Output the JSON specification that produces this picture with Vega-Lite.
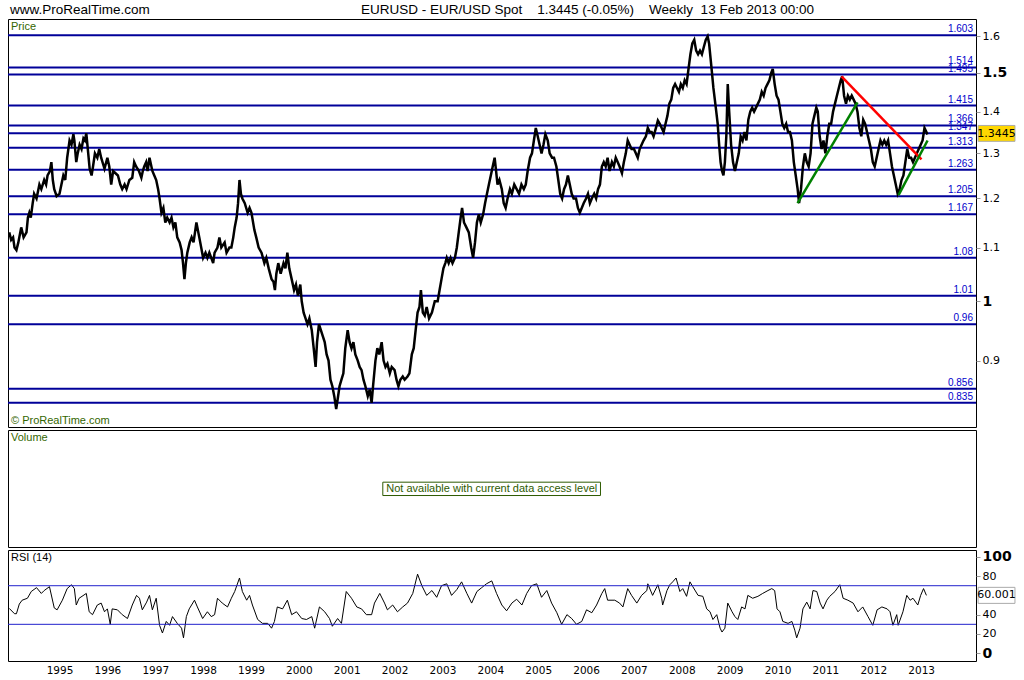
{
"$schema":"https://vega.github.io/schema/vega-lite/v6.json",
"background":"white",
"padding":{"left":3,"top":2,"right":0,"bottom":0},
"spacing":1,
"config":{"view":{"stroke":"#000000","strokeWidth":1},"font":"DejaVu Sans","axis":{"labelOverlap":false},"axisY":{"labelOverlap":false},"axisRight":{"labelOverlap":false}},
"datasets":{
"one":[{"k":1}],
"levels":[{"v":1.603,"s":"1.603"},{"v":1.514,"s":"1.514"},{"v":1.495,"s":"1.495"},{"v":1.415,"s":"1.415"},{"v":1.366,"s":"1.366"},{"v":1.347,"s":"1.347"},{"v":1.313,"s":"1.313"},{"v":1.263,"s":"1.263"},{"v":1.205,"s":"1.205"},{"v":1.167,"s":"1.167"},{"v":1.08,"s":"1.08"},{"v":1.01,"s":"1.01"},{"v":0.96,"s":"0.96"},{"v":0.856,"s":"0.856"},{"v":0.835,"s":"0.835"}],
"trend":[{"id":"r","t":2011.336,"p":1.49},{"id":"r","t":2013.007,"p":1.286},{"id":"g1","t":2010.418,"p":1.19},{"id":"g1","t":2011.671,"p":1.423},{"id":"g2","t":2012.528,"p":1.207},{"id":"g2","t":2013.134,"p":1.33}],
"rsiLevels":[{"v":30},{"v":70}],
"price":[
{"t":1993.95,"p":1.13},{"t":1993.99,"p":1.115},{"t":1994.03,"p":1.12},{"t":1994.06,"p":1.10},{"t":1994.10,"p":1.095},{"t":1994.14,"p":1.11},{"t":1994.20,"p":1.14},{"t":1994.25,"p":1.12},{"t":1994.31,"p":1.13},{"t":1994.34,"p":1.16},{"t":1994.37,"p":1.17},{"t":1994.40,"p":1.16},{"t":1994.44,"p":1.19},{"t":1994.47,"p":1.21},{"t":1994.52,"p":1.20},{"t":1994.58,"p":1.23},{"t":1994.62,"p":1.22},{"t":1994.68,"p":1.24},{"t":1994.72,"p":1.23},{"t":1994.75,"p":1.25},{"t":1994.80,"p":1.26},{"t":1994.83,"p":1.28},{"t":1994.86,"p":1.24},{"t":1994.89,"p":1.22},{"t":1994.94,"p":1.205},
{"t":1995.00,"p":1.21},{"t":1995.04,"p":1.23},{"t":1995.08,"p":1.25},{"t":1995.12,"p":1.24},{"t":1995.16,"p":1.29},{"t":1995.21,"p":1.33},{"t":1995.25,"p":1.32},{"t":1995.29,"p":1.345},{"t":1995.31,"p":1.33},{"t":1995.35,"p":1.28},{"t":1995.38,"p":1.30},{"t":1995.42,"p":1.32},{"t":1995.46,"p":1.31},{"t":1995.50,"p":1.335},{"t":1995.53,"p":1.33},{"t":1995.56,"p":1.347},{"t":1995.60,"p":1.30},{"t":1995.63,"p":1.265},{"t":1995.67,"p":1.25},{"t":1995.70,"p":1.27},{"t":1995.74,"p":1.30},{"t":1995.79,"p":1.29},{"t":1995.83,"p":1.31},{"t":1995.87,"p":1.29},{"t":1995.94,"p":1.265},
{"t":1996.00,"p":1.29},{"t":1996.04,"p":1.27},{"t":1996.08,"p":1.23},{"t":1996.12,"p":1.26},{"t":1996.17,"p":1.255},{"t":1996.22,"p":1.25},{"t":1996.27,"p":1.23},{"t":1996.31,"p":1.22},{"t":1996.36,"p":1.23},{"t":1996.40,"p":1.22},{"t":1996.46,"p":1.24},{"t":1996.52,"p":1.245},{"t":1996.56,"p":1.28},{"t":1996.60,"p":1.27},{"t":1996.66,"p":1.26},{"t":1996.71,"p":1.245},{"t":1996.74,"p":1.26},{"t":1996.77,"p":1.27},{"t":1996.81,"p":1.28},{"t":1996.84,"p":1.26},{"t":1996.88,"p":1.29},{"t":1996.94,"p":1.26},{"t":1996.98,"p":1.25},
{"t":1997.02,"p":1.24},{"t":1997.06,"p":1.22},{"t":1997.09,"p":1.20},{"t":1997.13,"p":1.17},{"t":1997.17,"p":1.18},{"t":1997.21,"p":1.15},{"t":1997.25,"p":1.16},{"t":1997.30,"p":1.15},{"t":1997.34,"p":1.16},{"t":1997.38,"p":1.14},{"t":1997.42,"p":1.15},{"t":1997.46,"p":1.12},{"t":1997.51,"p":1.11},{"t":1997.55,"p":1.095},{"t":1997.58,"p":1.07},{"t":1997.61,"p":1.04},{"t":1997.64,"p":1.07},{"t":1997.67,"p":1.09},{"t":1997.72,"p":1.11},{"t":1997.76,"p":1.12},{"t":1997.80,"p":1.11},{"t":1997.86,"p":1.15},{"t":1997.92,"p":1.12},{"t":1997.96,"p":1.10},
{"t":1998.00,"p":1.08},{"t":1998.05,"p":1.09},{"t":1998.09,"p":1.08},{"t":1998.13,"p":1.09},{"t":1998.17,"p":1.08},{"t":1998.21,"p":1.07},{"t":1998.24,"p":1.09},{"t":1998.30,"p":1.10},{"t":1998.34,"p":1.12},{"t":1998.38,"p":1.10},{"t":1998.45,"p":1.11},{"t":1998.49,"p":1.09},{"t":1998.55,"p":1.10},{"t":1998.59,"p":1.10},{"t":1998.63,"p":1.12},{"t":1998.66,"p":1.14},{"t":1998.70,"p":1.16},{"t":1998.73,"p":1.19},{"t":1998.76,"p":1.24},{"t":1998.79,"p":1.21},{"t":1998.82,"p":1.20},{"t":1998.87,"p":1.19},{"t":1998.93,"p":1.17},{"t":1998.97,"p":1.18},
{"t":1999.01,"p":1.17},{"t":1999.07,"p":1.135},{"t":1999.11,"p":1.12},{"t":1999.16,"p":1.10},{"t":1999.22,"p":1.09},{"t":1999.28,"p":1.07},{"t":1999.32,"p":1.08},{"t":1999.37,"p":1.06},{"t":1999.43,"p":1.04},{"t":1999.47,"p":1.035},{"t":1999.50,"p":1.02},{"t":1999.53,"p":1.05},{"t":1999.57,"p":1.07},{"t":1999.62,"p":1.05},{"t":1999.68,"p":1.07},{"t":1999.72,"p":1.06},{"t":1999.76,"p":1.09},{"t":1999.80,"p":1.06},{"t":1999.85,"p":1.04},{"t":1999.90,"p":1.02},{"t":1999.94,"p":1.03},{"t":1999.98,"p":1.01},
{"t":2000.03,"p":1.03},{"t":2000.06,"p":1.00},{"t":2000.10,"p":0.98},{"t":2000.14,"p":0.97},{"t":2000.18,"p":0.96},{"t":2000.22,"p":0.97},{"t":2000.27,"p":0.95},{"t":2000.31,"p":0.92},{"t":2000.35,"p":0.89},{"t":2000.38,"p":0.93},{"t":2000.42,"p":0.96},{"t":2000.46,"p":0.95},{"t":2000.50,"p":0.94},{"t":2000.54,"p":0.93},{"t":2000.58,"p":0.91},{"t":2000.62,"p":0.90},{"t":2000.66,"p":0.87},{"t":2000.70,"p":0.86},{"t":2000.74,"p":0.845},{"t":2000.78,"p":0.826},{"t":2000.81,"p":0.84},{"t":2000.85,"p":0.86},{"t":2000.89,"p":0.87},{"t":2000.93,"p":0.88},{"t":2000.97,"p":0.92},
{"t":2001.02,"p":0.95},{"t":2001.06,"p":0.93},{"t":2001.10,"p":0.92},{"t":2001.14,"p":0.93},{"t":2001.18,"p":0.91},{"t":2001.23,"p":0.90},{"t":2001.27,"p":0.89},{"t":2001.31,"p":0.885},{"t":2001.35,"p":0.87},{"t":2001.39,"p":0.86},{"t":2001.44,"p":0.845},{"t":2001.48,"p":0.855},{"t":2001.52,"p":0.835},{"t":2001.55,"p":0.86},{"t":2001.60,"p":0.90},{"t":2001.64,"p":0.92},{"t":2001.68,"p":0.91},{"t":2001.73,"p":0.93},{"t":2001.77,"p":0.90},{"t":2001.81,"p":0.89},{"t":2001.85,"p":0.895},{"t":2001.90,"p":0.88},{"t":2001.94,"p":0.89},
{"t":2002.00,"p":0.885},{"t":2002.04,"p":0.87},{"t":2002.08,"p":0.86},{"t":2002.12,"p":0.87},{"t":2002.17,"p":0.875},{"t":2002.21,"p":0.87},{"t":2002.27,"p":0.875},{"t":2002.31,"p":0.88},{"t":2002.36,"p":0.91},{"t":2002.40,"p":0.92},{"t":2002.44,"p":0.95},{"t":2002.48,"p":0.98},{"t":2002.52,"p":0.99},{"t":2002.55,"p":1.02},{"t":2002.59,"p":0.98},{"t":2002.63,"p":0.975},{"t":2002.67,"p":0.99},{"t":2002.72,"p":0.97},{"t":2002.78,"p":0.98},{"t":2002.84,"p":1.00},{"t":2002.90,"p":1.00},{"t":2002.94,"p":1.02},{"t":2002.98,"p":1.04},
{"t":2003.02,"p":1.06},{"t":2003.06,"p":1.07},{"t":2003.09,"p":1.08},{"t":2003.13,"p":1.07},{"t":2003.17,"p":1.08},{"t":2003.21,"p":1.07},{"t":2003.26,"p":1.08},{"t":2003.30,"p":1.10},{"t":2003.34,"p":1.13},{"t":2003.38,"p":1.16},{"t":2003.41,"p":1.18},{"t":2003.45,"p":1.15},{"t":2003.50,"p":1.14},{"t":2003.55,"p":1.13},{"t":2003.60,"p":1.10},{"t":2003.64,"p":1.08},{"t":2003.68,"p":1.11},{"t":2003.72,"p":1.15},{"t":2003.76,"p":1.167},{"t":2003.80,"p":1.15},{"t":2003.85,"p":1.167},{"t":2003.89,"p":1.19},{"t":2003.93,"p":1.21},{"t":2003.97,"p":1.23},
{"t":2004.01,"p":1.25},{"t":2004.05,"p":1.27},{"t":2004.09,"p":1.29},{"t":2004.12,"p":1.26},{"t":2004.15,"p":1.23},{"t":2004.19,"p":1.24},{"t":2004.24,"p":1.22},{"t":2004.28,"p":1.19},{"t":2004.32,"p":1.18},{"t":2004.36,"p":1.20},{"t":2004.41,"p":1.22},{"t":2004.45,"p":1.21},{"t":2004.50,"p":1.23},{"t":2004.55,"p":1.22},{"t":2004.60,"p":1.21},{"t":2004.65,"p":1.23},{"t":2004.70,"p":1.22},{"t":2004.74,"p":1.23},{"t":2004.78,"p":1.26},{"t":2004.83,"p":1.29},{"t":2004.87,"p":1.30},{"t":2004.91,"p":1.33},{"t":2004.95,"p":1.36},{"t":2004.99,"p":1.34},
{"t":2005.03,"p":1.32},{"t":2005.07,"p":1.30},{"t":2005.11,"p":1.32},{"t":2005.15,"p":1.345},{"t":2005.20,"p":1.33},{"t":2005.24,"p":1.30},{"t":2005.29,"p":1.29},{"t":2005.33,"p":1.29},{"t":2005.38,"p":1.27},{"t":2005.42,"p":1.24},{"t":2005.46,"p":1.21},{"t":2005.50,"p":1.20},{"t":2005.54,"p":1.22},{"t":2005.58,"p":1.23},{"t":2005.62,"p":1.25},{"t":2005.66,"p":1.23},{"t":2005.70,"p":1.21},{"t":2005.74,"p":1.20},{"t":2005.79,"p":1.20},{"t":2005.83,"p":1.18},{"t":2005.87,"p":1.17},{"t":2005.91,"p":1.18},{"t":2005.95,"p":1.19},
{"t":2006.00,"p":1.20},{"t":2006.04,"p":1.21},{"t":2006.08,"p":1.19},{"t":2006.12,"p":1.20},{"t":2006.17,"p":1.21},{"t":2006.21,"p":1.20},{"t":2006.25,"p":1.22},{"t":2006.29,"p":1.23},{"t":2006.33,"p":1.27},{"t":2006.37,"p":1.28},{"t":2006.41,"p":1.27},{"t":2006.45,"p":1.29},{"t":2006.49,"p":1.26},{"t":2006.54,"p":1.28},{"t":2006.58,"p":1.27},{"t":2006.62,"p":1.29},{"t":2006.66,"p":1.28},{"t":2006.70,"p":1.27},{"t":2006.75,"p":1.255},{"t":2006.79,"p":1.28},{"t":2006.83,"p":1.30},{"t":2006.87,"p":1.33},{"t":2006.91,"p":1.32},{"t":2006.95,"p":1.31},
{"t":2007.00,"p":1.31},{"t":2007.04,"p":1.30},{"t":2007.08,"p":1.29},{"t":2007.12,"p":1.31},{"t":2007.16,"p":1.32},{"t":2007.20,"p":1.33},{"t":2007.25,"p":1.34},{"t":2007.29,"p":1.36},{"t":2007.33,"p":1.35},{"t":2007.37,"p":1.35},{"t":2007.41,"p":1.34},{"t":2007.46,"p":1.36},{"t":2007.50,"p":1.378},{"t":2007.54,"p":1.37},{"t":2007.58,"p":1.36},{"t":2007.62,"p":1.35},{"t":2007.66,"p":1.37},{"t":2007.70,"p":1.39},{"t":2007.74,"p":1.42},{"t":2007.78,"p":1.43},{"t":2007.82,"p":1.46},{"t":2007.86,"p":1.47},{"t":2007.90,"p":1.46},{"t":2007.94,"p":1.45},{"t":2007.98,"p":1.47},
{"t":2008.02,"p":1.46},{"t":2008.06,"p":1.48},{"t":2008.10,"p":1.47},{"t":2008.14,"p":1.51},{"t":2008.18,"p":1.55},{"t":2008.22,"p":1.58},{"t":2008.26,"p":1.59},{"t":2008.30,"p":1.56},{"t":2008.34,"p":1.55},{"t":2008.38,"p":1.56},{"t":2008.42,"p":1.55},{"t":2008.46,"p":1.57},{"t":2008.50,"p":1.59},{"t":2008.54,"p":1.60},{"t":2008.57,"p":1.58},{"t":2008.60,"p":1.54},{"t":2008.63,"p":1.50},{"t":2008.66,"p":1.46},{"t":2008.69,"p":1.43},{"t":2008.72,"p":1.40},{"t":2008.75,"p":1.37},{"t":2008.78,"p":1.32},{"t":2008.81,"p":1.28},{"t":2008.84,"p":1.26},{"t":2008.87,"p":1.25},{"t":2008.90,"p":1.28},{"t":2008.93,"p":1.34},{"t":2008.96,"p":1.47},{"t":2008.99,"p":1.40},
{"t":2009.03,"p":1.32},{"t":2009.07,"p":1.28},{"t":2009.11,"p":1.26},{"t":2009.15,"p":1.28},{"t":2009.19,"p":1.30},{"t":2009.23,"p":1.34},{"t":2009.27,"p":1.33},{"t":2009.31,"p":1.35},{"t":2009.35,"p":1.33},{"t":2009.39,"p":1.38},{"t":2009.43,"p":1.40},{"t":2009.47,"p":1.41},{"t":2009.51,"p":1.40},{"t":2009.55,"p":1.41},{"t":2009.59,"p":1.42},{"t":2009.63,"p":1.43},{"t":2009.67,"p":1.45},{"t":2009.71,"p":1.44},{"t":2009.75,"p":1.46},{"t":2009.79,"p":1.47},{"t":2009.83,"p":1.48},{"t":2009.87,"p":1.50},{"t":2009.90,"p":1.51},{"t":2009.94,"p":1.47},{"t":2009.98,"p":1.44},
{"t":2010.02,"p":1.43},{"t":2010.06,"p":1.40},{"t":2010.10,"p":1.37},{"t":2010.14,"p":1.36},{"t":2010.18,"p":1.37},{"t":2010.22,"p":1.35},{"t":2010.26,"p":1.35},{"t":2010.30,"p":1.33},{"t":2010.34,"p":1.28},{"t":2010.38,"p":1.25},{"t":2010.42,"p":1.22},{"t":2010.45,"p":1.19},{"t":2010.49,"p":1.22},{"t":2010.53,"p":1.27},{"t":2010.57,"p":1.30},{"t":2010.61,"p":1.28},{"t":2010.65,"p":1.27},{"t":2010.69,"p":1.30},{"t":2010.73,"p":1.37},{"t":2010.77,"p":1.39},{"t":2010.81,"p":1.41},{"t":2010.84,"p":1.40},{"t":2010.88,"p":1.34},{"t":2010.92,"p":1.31},{"t":2010.96,"p":1.33},
{"t":2011.00,"p":1.30},{"t":2011.04,"p":1.34},{"t":2011.08,"p":1.37},{"t":2011.12,"p":1.37},{"t":2011.16,"p":1.40},{"t":2011.20,"p":1.42},{"t":2011.24,"p":1.44},{"t":2011.28,"p":1.46},{"t":2011.32,"p":1.48},{"t":2011.35,"p":1.49},{"t":2011.39,"p":1.44},{"t":2011.43,"p":1.42},{"t":2011.47,"p":1.44},{"t":2011.51,"p":1.43},{"t":2011.55,"p":1.44},{"t":2011.59,"p":1.43},{"t":2011.63,"p":1.42},{"t":2011.67,"p":1.40},{"t":2011.71,"p":1.36},{"t":2011.75,"p":1.34},{"t":2011.79,"p":1.38},{"t":2011.83,"p":1.37},{"t":2011.87,"p":1.35},{"t":2011.91,"p":1.33},{"t":2011.95,"p":1.31},{"t":2011.99,"p":1.28},
{"t":2012.03,"p":1.27},{"t":2012.07,"p":1.29},{"t":2012.11,"p":1.31},{"t":2012.15,"p":1.33},{"t":2012.19,"p":1.32},{"t":2012.23,"p":1.33},{"t":2012.27,"p":1.32},{"t":2012.31,"p":1.33},{"t":2012.35,"p":1.30},{"t":2012.39,"p":1.27},{"t":2012.43,"p":1.25},{"t":2012.47,"p":1.23},{"t":2012.51,"p":1.21},{"t":2012.55,"p":1.22},{"t":2012.59,"p":1.24},{"t":2012.63,"p":1.25},{"t":2012.67,"p":1.28},{"t":2012.71,"p":1.31},{"t":2012.75,"p":1.29},{"t":2012.79,"p":1.29},{"t":2012.83,"p":1.28},{"t":2012.87,"p":1.29},{"t":2012.91,"p":1.30},{"t":2012.95,"p":1.31},{"t":2012.99,"p":1.32},
{"t":2013.03,"p":1.33},{"t":2013.07,"p":1.36},{"t":2013.11,"p":1.35},{"t":2013.13,"p":1.3445}
],
"rsi":[
{"t":1993.95,"v":46.5},{"t":1994.06,"v":41},{"t":1994.10,"v":41},{"t":1994.16,"v":51},{"t":1994.22,"v":55},{"t":1994.33,"v":57},{"t":1994.41,"v":64},{"t":1994.52,"v":68},{"t":1994.62,"v":62},{"t":1994.68,"v":65},{"t":1994.79,"v":69},{"t":1994.89,"v":47},{"t":1994.95,"v":45},
{"t":1995.06,"v":55},{"t":1995.16,"v":67},{"t":1995.25,"v":71},{"t":1995.31,"v":67},{"t":1995.35,"v":50},{"t":1995.41,"v":57},{"t":1995.56,"v":62},{"t":1995.62,"v":43},{"t":1995.69,"v":40},{"t":1995.79,"v":50},{"t":1995.87,"v":52},{"t":1995.94,"v":43},
{"t":1996.00,"v":46},{"t":1996.06,"v":30},{"t":1996.10,"v":46},{"t":1996.21,"v":45},{"t":1996.31,"v":40},{"t":1996.42,"v":36},{"t":1996.52,"v":50},{"t":1996.61,"v":60},{"t":1996.67,"v":57},{"t":1996.73,"v":45},{"t":1996.82,"v":53},{"t":1996.88,"v":60},{"t":1996.94,"v":45},
{"t":1997.02,"v":57},{"t":1997.09,"v":29},{"t":1997.15,"v":21},{"t":1997.23,"v":33},{"t":1997.30,"v":29},{"t":1997.36,"v":38},{"t":1997.46,"v":31},{"t":1997.55,"v":26},{"t":1997.59,"v":16},{"t":1997.65,"v":38},{"t":1997.71,"v":46},{"t":1997.82,"v":55},{"t":1997.88,"v":48},{"t":1997.99,"v":36},
{"t":1998.09,"v":43},{"t":1998.17,"v":38},{"t":1998.24,"v":40},{"t":1998.30,"v":57},{"t":1998.40,"v":52},{"t":1998.51,"v":48},{"t":1998.59,"v":57},{"t":1998.66,"v":64},{"t":1998.76,"v":78},{"t":1998.82,"v":64},{"t":1998.91,"v":55},{"t":1998.97,"v":60},
{"t":1999.03,"v":50},{"t":1999.14,"v":35},{"t":1999.24,"v":31},{"t":1999.35,"v":31},{"t":1999.43,"v":26},{"t":1999.49,"v":33},{"t":1999.55,"v":48},{"t":1999.66,"v":46},{"t":1999.76,"v":55},{"t":1999.85,"v":40},{"t":1999.95,"v":43},
{"t":2000.06,"v":36},{"t":2000.16,"v":35},{"t":2000.27,"v":38},{"t":2000.33,"v":26},{"t":2000.43,"v":48},{"t":2000.54,"v":43},{"t":2000.64,"v":36},{"t":2000.70,"v":28},{"t":2000.81,"v":36},{"t":2000.89,"v":31},{"t":2000.99,"v":64},
{"t":2001.10,"v":57},{"t":2001.21,"v":48},{"t":2001.31,"v":46},{"t":2001.41,"v":40},{"t":2001.52,"v":40},{"t":2001.58,"v":52},{"t":2001.69,"v":62},{"t":2001.79,"v":52},{"t":2001.85,"v":45},{"t":2001.96,"v":50},
{"t":2002.06,"v":43},{"t":2002.17,"v":48},{"t":2002.27,"v":52},{"t":2002.38,"v":62},{"t":2002.48,"v":82},{"t":2002.57,"v":70},{"t":2002.67,"v":60},{"t":2002.78,"v":65},{"t":2002.88,"v":58},{"t":2002.98,"v":70},
{"t":2003.09,"v":72},{"t":2003.19,"v":60},{"t":2003.30,"v":66},{"t":2003.40,"v":74},{"t":2003.51,"v":62},{"t":2003.61,"v":52},{"t":2003.72,"v":64},{"t":2003.82,"v":68},{"t":2003.92,"v":72},
{"t":2004.03,"v":75},{"t":2004.13,"v":62},{"t":2004.24,"v":50},{"t":2004.34,"v":44},{"t":2004.45,"v":52},{"t":2004.55,"v":56},{"t":2004.66,"v":50},{"t":2004.76,"v":62},{"t":2004.86,"v":70},{"t":2004.97,"v":72},
{"t":2005.07,"v":58},{"t":2005.18,"v":65},{"t":2005.28,"v":52},{"t":2005.39,"v":42},{"t":2005.49,"v":30},{"t":2005.60,"v":40},{"t":2005.70,"v":36},{"t":2005.80,"v":30},{"t":2005.91,"v":33},
{"t":2006.01,"v":45},{"t":2006.12,"v":42},{"t":2006.22,"v":50},{"t":2006.33,"v":62},{"t":2006.39,"v":67},{"t":2006.45,"v":55},{"t":2006.60,"v":55},{"t":2006.70,"v":52},{"t":2006.77,"v":48},{"t":2006.87,"v":67},{"t":2006.95,"v":60},
{"t":2007.06,"v":52},{"t":2007.16,"v":60},{"t":2007.27,"v":65},{"t":2007.29,"v":72},{"t":2007.39,"v":60},{"t":2007.50,"v":71},{"t":2007.58,"v":57},{"t":2007.60,"v":50},{"t":2007.69,"v":65},{"t":2007.75,"v":71},{"t":2007.81,"v":74},{"t":2007.88,"v":78},{"t":2007.96,"v":64},
{"t":2008.02,"v":67},{"t":2008.10,"v":59},{"t":2008.17,"v":74},{"t":2008.23,"v":69},{"t":2008.34,"v":60},{"t":2008.44,"v":59},{"t":2008.52,"v":46},{"t":2008.59,"v":43},{"t":2008.65,"v":35},{"t":2008.73,"v":40},{"t":2008.80,"v":26},{"t":2008.84,"v":22},{"t":2008.90,"v":26},{"t":2008.96,"v":52},
{"t":2009.05,"v":43},{"t":2009.11,"v":38},{"t":2009.17,"v":35},{"t":2009.25,"v":48},{"t":2009.32,"v":46},{"t":2009.38,"v":60},{"t":2009.48,"v":57},{"t":2009.59,"v":59},{"t":2009.69,"v":62},{"t":2009.80,"v":65},{"t":2009.88,"v":67},{"t":2009.94,"v":65},{"t":2009.99,"v":46},
{"t":2010.05,"v":43},{"t":2010.11,"v":33},{"t":2010.22,"v":31},{"t":2010.30,"v":33},{"t":2010.36,"v":24},{"t":2010.40,"v":16},{"t":2010.47,"v":26},{"t":2010.53,"v":46},{"t":2010.61,"v":53},{"t":2010.68,"v":46},{"t":2010.74,"v":65},{"t":2010.82,"v":64},{"t":2010.89,"v":52},{"t":2010.95,"v":46},
{"t":2011.03,"v":55},{"t":2011.09,"v":59},{"t":2011.20,"v":64},{"t":2011.30,"v":71},{"t":2011.37,"v":57},{"t":2011.47,"v":55},{"t":2011.58,"v":52},{"t":2011.68,"v":43},{"t":2011.78,"v":48},{"t":2011.89,"v":38},{"t":2011.99,"v":29},
{"t":2012.08,"v":45},{"t":2012.18,"v":48},{"t":2012.29,"v":46},{"t":2012.35,"v":43},{"t":2012.41,"v":29},{"t":2012.49,"v":40},{"t":2012.52,"v":29},{"t":2012.62,"v":43},{"t":2012.70,"v":60},{"t":2012.77,"v":55},{"t":2012.83,"v":57},{"t":2012.93,"v":50},{"t":2012.99,"v":60},
{"t":2013.05,"v":67},{"t":2013.11,"v":60}
]
},
"vconcat":[
{
"width":968,"height":408,
"layer":[
{"data":{"name":"levels"},"mark":{"type":"rule","color":"#000099","strokeWidth":2},
 "encoding":{"y":{"field":"v","type":"quantitative","scale":{"type":"log","domain":[0.8,1.65],"nice":false},
  "axis":{"orient":"right","title":null,"values":[0.9,1,1.1,1.2,1.3,1.4,1.5,1.6],"tickCount":10,"format":"~g","grid":false,"domain":false,"tickColor":"#999999","tickSize":4,"labelPadding":2,"labelOverlap":false,"labelColor":"#000000","labelFont":"DejaVu Sans",
   "labelFontSize":{"condition":{"test":"datum.value==1||datum.value==1.5","value":14},"value":11},
   "labelFontWeight":{"condition":{"test":"datum.value==1||datum.value==1.5","value":"bold"},"value":"normal"}}}}},
{"data":{"name":"levels"},"mark":{"type":"text","align":"right","baseline":"bottom","dx":-3,"dy":-1,"fontSize":10,"font":"Liberation Sans","color":"#0000cc"},
 "encoding":{"x":{"datum":2014.146,"type":"quantitative","scale":{"domain":[1993.924,2014.146],"nice":false,"zero":false},"axis":null},
  "y":{"field":"v","type":"quantitative"},"text":{"field":"s"}}},
{"data":{"name":"price"},"mark":{"type":"line","color":"#000000","strokeWidth":2.5},
 "encoding":{"x":{"field":"t","type":"quantitative"},"y":{"field":"p","type":"quantitative"}}},
{"data":{"name":"trend"},"mark":{"type":"line","strokeWidth":2.5},
 "encoding":{"x":{"field":"t","type":"quantitative"},"y":{"field":"p","type":"quantitative"},
  "color":{"field":"id","type":"nominal","scale":{"domain":["r","g1","g2"],"range":["#ff0000","#008000","#008000"]},"legend":null}}},
{"data":{"name":"one"},"mark":{"type":"text","align":"left","baseline":"middle","fontSize":13.5,"font":"Liberation Sans","color":"#000000","dx":2},
 "encoding":{"x":{"datum":1993.924},"y":{"datum":1.678},"text":{"value":"www.ProRealTime.com"}}},
{"data":{"name":"one"},"mark":{"type":"text","align":"center","baseline":"middle","fontSize":13.5,"font":"Liberation Sans","color":"#000000"},
 "encoding":{"x":{"datum":2006.03},"y":{"datum":1.678},"text":{"value":"EURUSD - EUR/USD Spot\u00a0\u00a0\u00a0 1.3445 (-0.05%)\u00a0\u00a0\u00a0 Weekly\u00a0 13 Feb 2013 00:00"}}},
{"data":{"name":"one"},"mark":{"type":"text","align":"left","baseline":"top","fontSize":11,"font":"Liberation Sans","color":"#336600","dx":3,"dy":2},
 "encoding":{"x":{"datum":1993.924},"y":{"datum":1.65},"text":{"value":"Price"}}},
{"data":{"name":"one"},"mark":{"type":"text","align":"left","baseline":"bottom","fontSize":11,"font":"Liberation Sans","color":"#336600","dx":3,"dy":-1},
 "encoding":{"x":{"datum":1993.924},"y":{"datum":0.8},"text":{"value":"© ProRealTime.com"}}},
{"data":{"name":"one"},"mark":{"type":"rect","fill":"#ffd700","stroke":"#aaaaaa","strokeWidth":1},
 "encoding":{"x":{"datum":2014.19},"x2":{"datum":2014.96},"y":{"datum":1.366},"y2":{"datum":1.328}}},
{"data":{"name":"one"},"mark":{"type":"text","align":"center","baseline":"middle","fontSize":11,"font":"DejaVu Sans","color":"#000000"},
 "encoding":{"x":{"datum":2014.575},"y":{"datum":1.3445},"text":{"value":"1.3445"}}}
]
},
{
"width":968,"height":117,
"layer":[
{"data":{"name":"one"},"mark":{"type":"rect","fill":"#ffffff","stroke":"#2d5a00","strokeWidth":1},
 "encoding":{"x":{"datum":2001.754,"type":"quantitative","scale":{"domain":[1993.924,2014.146],"nice":false,"zero":false},"axis":null},"x2":{"datum":2006.301},
  "y":{"datum":0.554,"type":"quantitative","scale":{"domain":[0,1],"nice":false},"axis":null},"y2":{"datum":0.44}}},
{"data":{"name":"one"},"mark":{"type":"text","align":"center","baseline":"middle","fontSize":11,"font":"Liberation Sans","color":"#2d5a00"},
 "encoding":{"x":{"datum":2004.03},"y":{"datum":0.497},"text":{"value":"Not available with current data access level"}}},
{"data":{"name":"one"},"mark":{"type":"text","align":"left","baseline":"top","fontSize":11,"font":"Liberation Sans","color":"#336600","dx":3,"dy":2},
 "encoding":{"x":{"datum":1993.924},"y":{"datum":1},"text":{"value":"Volume"}}}
]
},
{
"width":968,"height":111,
"layer":[
{"data":{"name":"rsi"},"mark":{"type":"line","color":"#000000","strokeWidth":1},
 "encoding":{"x":{"field":"t","type":"quantitative","scale":{"domain":[1993.924,2014.146],"nice":false,"zero":false},
   "axis":{"title":null,"values":[1995,1996,1997,1998,1999,2000,2001,2002,2003,2004,2005,2006,2007,2008,2009,2010,2011,2012,2013],"tickCount":20,"format":"d","grid":false,"domain":false,"ticks":false,"labelPadding":4,"labelFontSize":10.5,"labelColor":"#000000","labelFont":"DejaVu Sans"}},
  "y":{"field":"v","type":"quantitative","scale":{"domain":[-8,107],"nice":false,"zero":false},
  "axis":{"orient":"right","title":null,"values":[0,20,40,80,100],"tickCount":6,"grid":false,"domain":false,"tickColor":"#999999","tickSize":4,"labelPadding":2,"labelOverlap":false,"labelSeparation":0,"labelColor":"#000000","labelFont":"DejaVu Sans",
   "labelFontSize":{"condition":{"test":"datum.value==0||datum.value==100","value":14},"value":11},
   "labelFontWeight":{"condition":{"test":"datum.value==0||datum.value==100","value":"bold"},"value":"normal"}}}}},
{"data":{"name":"rsiLevels"},"mark":{"type":"rule","color":"#2222cc","strokeWidth":1},
 "encoding":{"y":{"field":"v","type":"quantitative"}}},
{"data":{"name":"one"},"mark":{"type":"text","align":"left","baseline":"top","fontSize":11,"font":"Liberation Sans","color":"#000000","dx":3,"dy":2},
 "encoding":{"x":{"datum":1993.924},"y":{"datum":107},"text":{"value":"RSI (14)"}}},
{"data":{"name":"one"},"mark":{"type":"rect","fill":"#ffffff","stroke":"#aaaaaa","strokeWidth":1},
 "encoding":{"x":{"datum":2014.19},"x2":{"datum":2014.96},"y":{"datum":68.3},"y2":{"datum":51.7}}},
{"data":{"name":"one"},"mark":{"type":"text","align":"center","baseline":"middle","fontSize":11,"font":"DejaVu Sans","color":"#000000"},
 "encoding":{"x":{"datum":2014.575},"y":{"datum":60},"text":{"value":"60.001"}}}
]
}
]
}
